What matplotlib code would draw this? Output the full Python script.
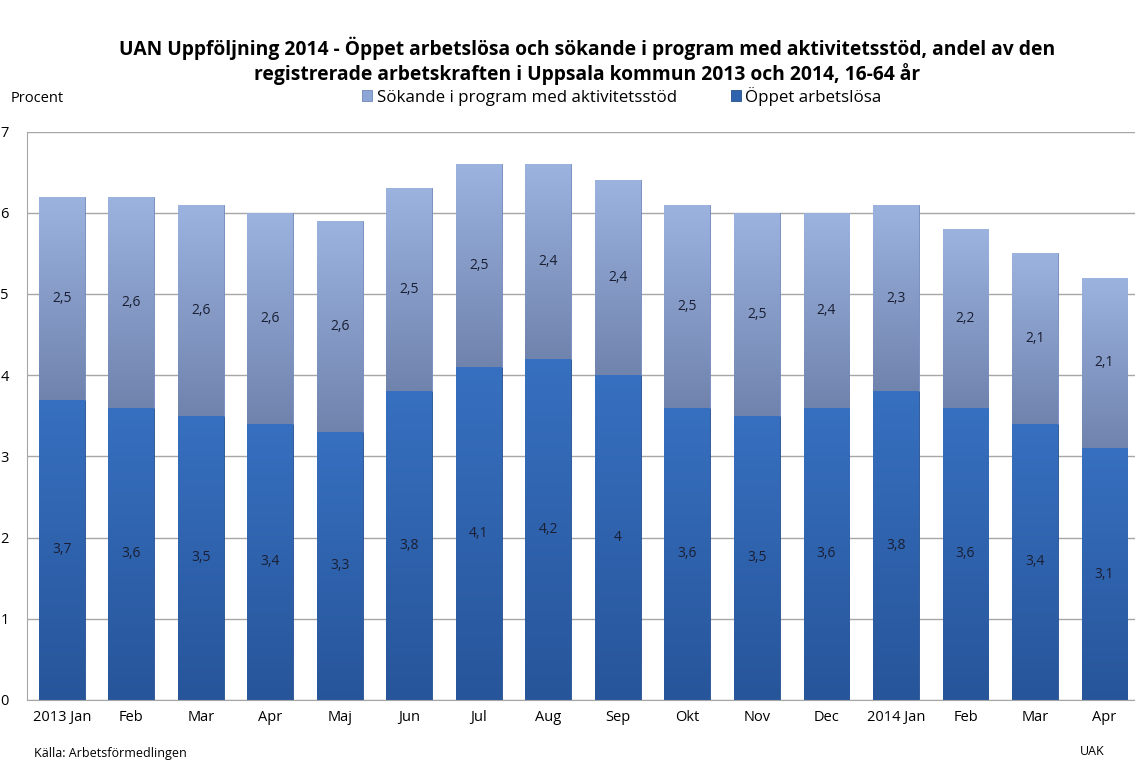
import numpy as np
import matplotlib.pyplot as plt
from matplotlib.colors import LinearSegmentedColormap

plt.rcParams['font.family'] = ['Open Sans', 'DejaVu Sans']

# Data
months = ['2013 Jan', 'Feb', 'Mar', 'Apr', 'Maj', 'Jun', 'Jul', 'Aug', 'Sep',
          'Okt', 'Nov', 'Dec', '2014 Jan', 'Feb', 'Mar', 'Apr']
oppet = [3.7, 3.6, 3.5, 3.4, 3.3, 3.8, 4.1, 4.2, 4.0, 3.6, 3.5, 3.6, 3.8, 3.6, 3.4, 3.1]
sokande = [2.5, 2.6, 2.6, 2.6, 2.6, 2.5, 2.5, 2.4, 2.4, 2.5, 2.5, 2.4, 2.3, 2.2, 2.1, 2.1]

col_oppet = '#2f63ad'
col_sok = '#8ea6d6'


def fmt(v):
    return f'{v:g}'.replace('.', ',')


fig = plt.figure(figsize=(11.35, 7.63), dpi=100)
ax = fig.add_axes([0.0238, 0.0826, 0.98, 0.745])

x = np.arange(len(months))
w = 0.66
b1 = ax.bar(x, oppet, width=w, color=col_oppet, edgecolor='#244f8f', linewidth=0.6, zorder=2)
b2 = ax.bar(x, sokande, width=w, bottom=oppet, color=col_sok, edgecolor='#6f86b8',
            linewidth=0.6, zorder=2)

# Gradient shading inside the bars
grad = np.linspace(0, 1, 256).reshape(-1, 1)
for bars, cm in [(b1, ['#27559a', '#3770c0']), (b2, ['#6f83ad', '#9cb3e0'])]:
    cmap = LinearSegmentedColormap.from_list('g', cm)
    for bar in bars:
        x0, y0 = bar.get_x(), bar.get_y()
        bw, bh = bar.get_width(), bar.get_height()
        im = ax.imshow(grad, extent=[x0, x0 + bw, y0, y0 + bh], origin='lower',
                       cmap=cmap, aspect='auto', zorder=2.5)
        im.set_clip_path(bar)

for i in range(len(months)):
    ax.text(x[i], oppet[i] / 2, fmt(oppet[i]), ha='center', va='center',
            fontsize=10, color='#1a1f33', zorder=4)
    ax.text(x[i], oppet[i] + sokande[i] / 2, fmt(sokande[i]), ha='center',
            va='center', fontsize=10, color='#1a1f33', zorder=4)

ax.set_xlim(-0.5, len(months) - 0.5)
ax.set_ylim(0, 7)
ax.set_yticks(range(0, 8))
ax.set_xticks(x)
ax.set_xticklabels(months, fontsize=10.5)
ax.tick_params(axis='y', labelsize=10.5, length=0, pad=13)
ax.tick_params(axis='x', length=0, pad=7)
ax.grid(axis='y', color='#a6a6a6', linewidth=1, zorder=0)
for s in ['top', 'right']:
    ax.spines[s].set_visible(False)
ax.spines['left'].set_color('#a6a6a6')
ax.spines['bottom'].set_color('#a6a6a6')

fig.text(0.517, 0.952, 'UAN Uppföljning 2014 - Öppet arbetslösa och sökande i program med aktivitetsstöd, andel av den\n'
         'registrerade arbetskraften i Uppsala kommun 2013 och 2014, 16-64 år',
         ha='center', va='top', fontsize=13.9, fontweight='bold', linespacing=1.2)
fig.text(0.009, 0.871, 'Procent', fontsize=10.5, va='center')
fig.text(0.03, 0.004, 'Källa: Arbetsförmedlingen', fontsize=9, va='bottom')
fig.text(0.951, 0.006, 'UAK', fontsize=9, va='bottom')

leg = fig.legend([b2, b1], ['Sökande i program med aktivitetsstöd', 'Öppet arbetslösa'],
                 loc='center', bbox_to_anchor=(0.548, 0.874), ncol=2, frameon=False,
                 fontsize=12.2, handlelength=0.6, handleheight=0.6, handletextpad=0.25,
                 columnspacing=3.2)

fig.savefig('out.png', dpi=100)
